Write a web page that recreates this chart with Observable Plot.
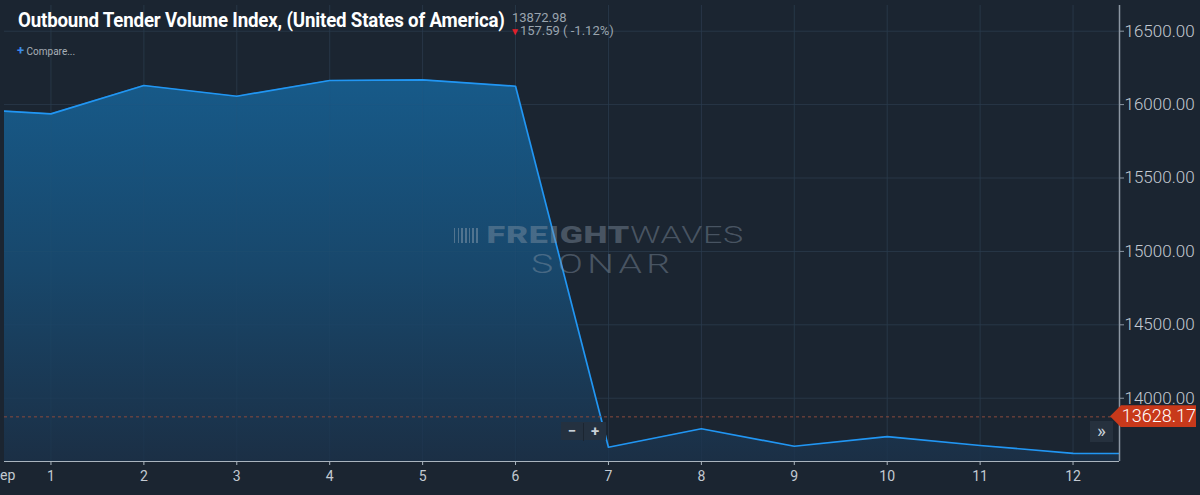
<!DOCTYPE html>
<html><head><meta charset="utf-8">
<script src="https://cdn.jsdelivr.net/npm/d3@7"></script>
<script src="https://cdn.jsdelivr.net/npm/@observablehq/plot@0.6"></script>
<style>
html,body{margin:0;padding:0;background:#1b2531;overflow:hidden}
#wrap{position:relative;width:1200px;height:495px;font-family:Roboto,sans-serif}
#wrap svg{display:block}
.ov{position:absolute;white-space:nowrap}
</style></head>
<body><div id="wrap"></div>
<script>
// ---- data ----
const days = [0, 1, 2, 3, 4, 5, 6, 7, 8, 9, 10, 11, 12, 13];
const values = [15975, 15937, 16130, 16057, 16164, 16169, 16125, 13666, 13792, 13673, 13739, 13678, 13625, 13622];
const xTicks = [1, 2, 3, 4, 5, 6, 7, 8, 9, 10, 11, 12];
const xTickLabels = ["1","2","3","4","5","6","7","8","9","10","11","12"];
const yTicks = [14000, 14500, 15000, 15500, 16000, 16500];
const monthLabel = "Sep";
const refValue = 13872.98;
const lastLabel = "13628.17";
const title = "Outbound Tender Volume Index, (United States of America)";
const headValue = "13872.98";
const headChange = "157.59 ( -1.12%)";

const data = days.map((d, i) => ({x: d, v: values[i]}));
const yDomain = [13569, 16675];
const xDomain = [0.5, 12.5];

const chart = Plot.plot({
  width: 1200, height: 495,
  marginLeft: 4, marginRight: 81, marginTop: 5, marginBottom: 34,
  x: {domain: xDomain},
  y: {domain: yDomain},
  style: {background: "#1b2531", color: "#c3cad2", fontFamily: "Roboto, sans-serif"},
  marks: [
    Plot.gridX(xTicks, {stroke: "#263341", strokeOpacity: 1}),
    Plot.gridY(yTicks, {stroke: "#263341", strokeOpacity: 1}),
    Plot.areaY(data, {x: "x", y1: yDomain[0], y2: "v", fill: "url(#fillGrad)", clip: true}),
    Plot.gridX(xTicks, {stroke: "#3a5a78", strokeOpacity: 0.12}),
    Plot.gridY(yTicks, {stroke: "#3a5a78", strokeOpacity: 0.12}),
    Plot.lineY(data, {x: "x", y: "v", stroke: "#2196f3", strokeWidth: 1.7, clip: true}),
    Plot.ruleY([refValue], {stroke: "#8c4a3c", strokeDasharray: "3,3", strokeWidth: 1}),
    Plot.ruleY([yDomain[0]], {stroke: "#aab4be", strokeWidth: 1.2}),
    Plot.ruleX([xDomain[1]], {stroke: "#8c97a3", strokeWidth: 1.5}),
    Plot.axisX(xTicks, {tickFormat: (d, i) => xTickLabels[i], tickSize: 4, tickPadding: 6, fontSize: 14, stroke: "#aab4be", fill: "#c3cad2", label: null}),
    Plot.text([monthLabel], {x: 0.49, y: yDomain[0], dy: 9, text: d => d, fontSize: 14, fill: "#c3cad2", lineAnchor: "top"}),
    Plot.axisY(yTicks, {anchor: "right", tickFormat: d => d.toFixed(2), tickSize: 4, tickPadding: 1, fontSize: 17, fontWeight: 300, stroke: "#8c97a3", fill: "#c3cad2", label: null})
  ]
});

d3.select(chart).insert("defs", ":first-child").html(
  `<linearGradient id="fillGrad" x1="0" y1="0" x2="0" y2="1">
     <stop offset="0" stop-color="#175a89"/>
     <stop offset="0.5" stop-color="#18476b"/>
     <stop offset="1" stop-color="#1b2f45"/>
   </linearGradient>`);

const wrap = document.getElementById("wrap");
wrap.appendChild(chart);
const ys = chart.scale("y");

function ov(html, css) {
  const d = document.createElement("div");
  d.className = "ov";
  d.innerHTML = html;
  Object.assign(d.style, css);
  wrap.appendChild(d);
  return d;
}
// dark strip on far left
ov("", {left: "0px", top: "0px", width: "4px", height: "461px", background: "#1b2531"});
// title
ov(title, {left: "18px", top: "8px", fontSize: "21px", fontWeight: "700", color: "#ffffff",
  transform: "scaleX(0.89)", transformOrigin: "0 0", letterSpacing: "-0.2px"});
ov(headValue, {left: "512px", top: "10px", fontSize: "13px", color: "#9aa4ae"});
ov(`<span style="color:#e0202a;font-size:10px">&#9660;</span>${headChange}`, {left: "510px", top: "23px", fontSize: "13px", color: "#9aa4ae"});
ov(`<span style="color:#3a8ae8;font-size:13px;font-weight:700">+</span> Compare...`, {left: "17px", top: "43px", fontSize: "10px", color: "#a8b0b8"});

// watermark
ov(`<span style="display:inline-block;width:17px;height:15px;margin-right:5px;vertical-align:0px;background:repeating-linear-gradient(90deg,rgba(150,165,180,0.45) 0 1px,transparent 1px 2.5px)"></span><span style="font-weight:900">FREIGHT</span><span style="font-weight:300">WAVES</span>`,
  {left: "454px", top: "222px", fontSize: "23px", color: "rgba(140,155,170,0.42)", letterSpacing: "0.5px",
   transform: "scaleX(1.48)", transformOrigin: "0 0"});
ov(`SONAR`, {left: "531px", top: "249px", fontSize: "26px", fontWeight: "300", color: "rgba(140,155,170,0.42)", letterSpacing: "3px",
   transform: "scaleX(1.44)", transformOrigin: "0 0"});

// zoom buttons
ov(`<span style="display:inline-block;width:22px;text-align:center">&minus;</span><span style="display:inline-block;width:1px;height:18px;background:#1b2531;vertical-align:middle"></span><span style="display:inline-block;width:22px;text-align:center">+</span>`,
  {left: "561px", top: "422px", height: "18px", lineHeight: "18px", background: "#243140", color: "#c8d0d8", fontSize: "15px", fontWeight: "700"});
ov(`&raquo;`, {left: "1090px", top: "421px", width: "23px", height: "21px", lineHeight: "19px", textAlign: "center", background: "#26313e", color: "#c8d0d8", fontSize: "19px"});

// last value tag
const ty = ys.apply(refValue);
ov(lastLabel, {left: "1110px", top: (ty - 11) + "px", width: "86px", height: "22px", lineHeight: "22px",
  background: "#c8391b", color: "#ffffff", fontSize: "18px", fontWeight: "300", textAlign: "right",
  clipPath: "polygon(0 50%, 11px 0, 100% 0, 100% 100%, 11px 100%)"});
</script></body></html>
